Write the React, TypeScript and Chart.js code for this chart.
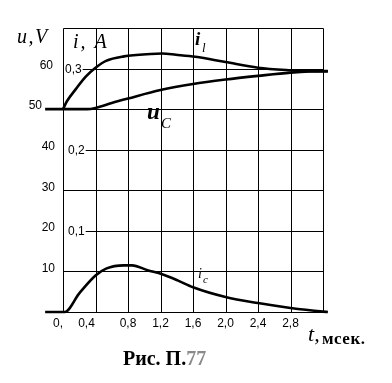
import { useEffect, useRef } from "react";
import { Chart, registerables } from "chart.js";

Chart.register(...registerables);

// time axis (ms)
const timeTicks = [0, 0.4, 0.8, 1.2, 1.6, 2.0, 2.4, 2.8, 3.2];
const timeLabels = ["0,", "0,4", "0,8", "1,2", "1,6", "2,0", "2,4", "2,8", ""];
// voltage axis (V)
const uTicks = [10, 20, 30, 40, 50, 60];
const uLabels = ["10", "20", "30", "40", "50", "60"];
const uTop = 70;
// current axis (A)
const iTicks = [0.1, 0.2, 0.3];
const iLabels = ["0,1", "0,2", "0,3"];
const iTop = 0.35;

// i_l (A)
const tIl = [0, 0.05, 0.16, 0.28, 0.4, 0.53, 0.75, 1.08, 1.22, 1.39, 1.63, 2.0, 2.4, 2.8, 3.2, 3.26];
const iL = [0.25, 0.26, 0.275, 0.29, 0.301, 0.3095, 0.315, 0.318, 0.3185, 0.317, 0.3145, 0.308, 0.301, 0.298, 0.2965, 0.2965];
// u_C (V)
const tUc = [-0.22, 0.3, 0.4, 0.6, 0.8, 1.2, 1.6, 2.0, 2.4, 2.8, 3.2, 3.26];
const uC = [50, 50, 50.3, 51.5, 52.6, 54.7, 56.2, 57.3, 58.2, 59.0, 59.4, 59.4];
// i_c (A)
const tIc = [-0.22, 0.02, 0.2, 0.4, 0.53, 0.75, 0.85, 1.04, 1.22, 1.41, 1.6, 2.0, 2.4, 2.8, 3.2, 3.26];
const iC = [0, 0, 0.023, 0.045, 0.0535, 0.0575, 0.0575, 0.0515, 0.0465, 0.039, 0.0305, 0.0185, 0.011, 0.005, 0.0005, 0];

const zip = (xs: number[], ys: number[]) => xs.map((x, k) => ({ x, y: ys[k] }));

const SANS = "'Liberation Sans', Arial, sans-serif";
const SERIF = "'Liberation Serif', 'Times New Roman', serif";

const drawPlugin = {
  id: "handGrid",
  beforeDatasetsDraw(chart: any) {
    const ctx = chart.ctx as CanvasRenderingContext2D;
    const x = chart.scales.x;
    const y = chart.scales.y;
    const yi = chart.scales.yI;
    const x0 = x.getPixelForValue(0);
    const x1 = x.getPixelForValue(3.2);
    const yBot = y.getPixelForValue(0);
    const yTopPx = y.getPixelForValue(uTop);
    const h = (v: number) => Math.round(v) + 0.5;
    ctx.save();
    ctx.strokeStyle = "#000";
    ctx.fillStyle = "#000";
    ctx.lineWidth = 1;
    const line = (ax: number, ay: number, bx: number, by: number) => {
      ctx.beginPath();
      ctx.moveTo(ax, ay);
      ctx.lineTo(bx, by);
      ctx.stroke();
    };
    // vertical grid lines
    timeTicks.forEach((t) => {
      const px = h(x.getPixelForValue(t));
      line(px, h(yTopPx), px, h(yBot));
    });
    // top border and bottom
    line(h(x0), h(yTopPx), h(x1), h(yTopPx));
    line(h(x0), h(yBot), h(x1), h(yBot));

    // current labels
    ctx.font = `12px ${SANS}`;
    ctx.textBaseline = "middle";
    ctx.textAlign = "left";
    const iEnds: { py: number; xe: number }[] = [];
    iTicks.forEach((v, k) => {
      const py = yi.getPixelForValue(v);
      const lx = x0 + (v > 0.25 ? 2 : 5);
      ctx.fillText(iLabels[k], lx, py + 1);
      iEnds.push({ py: Math.round(py), xe: lx + ctx.measureText(iLabels[k]).width + 1 });
    });

    // horizontal grid lines
    uTicks.forEach((v) => {
      const py = y.getPixelForValue(v);
      const hit = iEnds.find((e) => Math.abs(e.py - py) < 3);
      let xs = x0;
      if (hit) xs = hit.xe;
      line(xs, h(py), h(x1), h(py));
    });

    // voltage labels
    ctx.textAlign = "right";
    ctx.font = `12px ${SANS}`;
    uTicks.forEach((v, k) => {
      const py = y.getPixelForValue(v);
      const rx = v === 50 ? x0 - 21 : v === 60 ? x0 - 10 : x0 - 8;
      ctx.fillText(uLabels[k], rx, py - 3);
    });

    // time labels
    ctx.textAlign = "center";
    ctx.textBaseline = "alphabetic";
    timeTicks.forEach((t, k) => {
      if (!timeLabels[k]) return;
      let px = x.getPixelForValue(t);
      if (k === 0) px -= 5;
      if (k === 1) px -= 9;
      ctx.fillText(timeLabels[k], px, yBot + 15);
    });
    ctx.restore();
  },
  afterDatasetsDraw(chart: any) {
    const ctx = chart.ctx as CanvasRenderingContext2D;
    const x = chart.scales.x;
    const y = chart.scales.y;
    const x0 = x.getPixelForValue(0);
    const x1 = x.getPixelForValue(3.2);
    const yBot = y.getPixelForValue(0);
    const yTopPx = y.getPixelForValue(uTop);
    ctx.save();
    ctx.fillStyle = "#000";
    ctx.textAlign = "left";
    ctx.textBaseline = "alphabetic";
    const c: any = ctx;
    // axis titles
    ctx.font = `italic 20px ${SERIF}`;
    c.letterSpacing = "1.5px";
    ctx.fillText("u,V", x0 - 46, yTopPx + 15);
    ctx.font = `italic 20px ${SERIF}`;
    c.letterSpacing = "2px";
    ctx.fillText("i, A", x0 + 10, yTopPx + 20);
    c.letterSpacing = "0px";

    // curve labels
    ctx.font = `bold italic 19px ${SERIF}`;
    ctx.fillText("i", x0 + 132, yTopPx + 17);
    ctx.font = `italic 13px ${SERIF}`;
    ctx.fillText("l", x0 + 139, yTopPx + 24);

    ctx.font = `bold italic 23px ${SERIF}`;
    ctx.fillText("u", x0 + 84, y.getPixelForValue(50) + 10);
    ctx.font = `italic 15px ${SERIF}`;
    ctx.fillText("C", x0 + 98, y.getPixelForValue(50) + 19);

    ctx.font = `italic 14px ${SERIF}`;
    ctx.fillText("i", x0 + 135, y.getPixelForValue(10) + 7);
    ctx.font = `italic 11px ${SERIF}`;
    ctx.fillText("c", x0 + 140, y.getPixelForValue(10) + 12);

    // time axis title
    ctx.font = `italic 22px ${SERIF}`;
    ctx.fillText("t,", x1 - 15, yBot + 29);
    ctx.font = `bold 17px ${SERIF}`;
    c.letterSpacing = "0.5px";
    ctx.fillText("мсек.", x1 - 1, yBot + 32);
    c.letterSpacing = "0px";

    // caption
    ctx.font = `bold 20px ${SERIF}`;
    const cap1 = "Рис. П.";
    const cx = 123;
    const cy = yBot + 53;
    ctx.fillText(cap1, cx, cy);
    const w1 = ctx.measureText(cap1).width;
    ctx.fillStyle = "#8a8a8a";
    ctx.fillText("77", cx + w1, cy);
    ctx.restore();
  },
};

export default function App() {
  const ref = useRef<HTMLCanvasElement | null>(null);
  useEffect(() => {
    if (!ref.current) return;
    const curve = (data: any[], axis: string, w: number) => ({
      data,
      yAxisID: axis,
      borderColor: "#000",
      borderWidth: w,
      pointRadius: 0,
      fill: false,
      cubicInterpolationMode: "monotone" as const,
      clip: false as any,
    });
    const chart = new Chart(ref.current, {
      type: "line",
      data: {
        datasets: [
          curve(zip(tIl, iL), "yI", 2.6),
          curve(zip(tUc, uC), "y", 2.6),
          curve(zip(tIc, iC), "yI", 2.6),
        ],
      },
      options: {
        animation: false,
        responsive: false,
        events: [],
        layout: { padding: { left: 43.5, right: 44.6, top: 28, bottom: 71 } },
        plugins: { legend: { display: false }, tooltip: { enabled: false } },
        scales: {
          x: { type: "linear", min: -0.24, max: 3.5, display: false },
          y: { type: "linear", min: 0, max: uTop, display: false },
          yI: { type: "linear", min: 0, max: iTop, display: false },
        },
      },
      plugins: [drawPlugin],
    });
    return () => chart.destroy();
  }, []);
  return (
    <div style={{ position: "fixed", left: 0, top: 0, width: 392, height: 383, background: "#fff" }}>
      <canvas ref={ref} width={392} height={383} />
    </div>
  );
}
